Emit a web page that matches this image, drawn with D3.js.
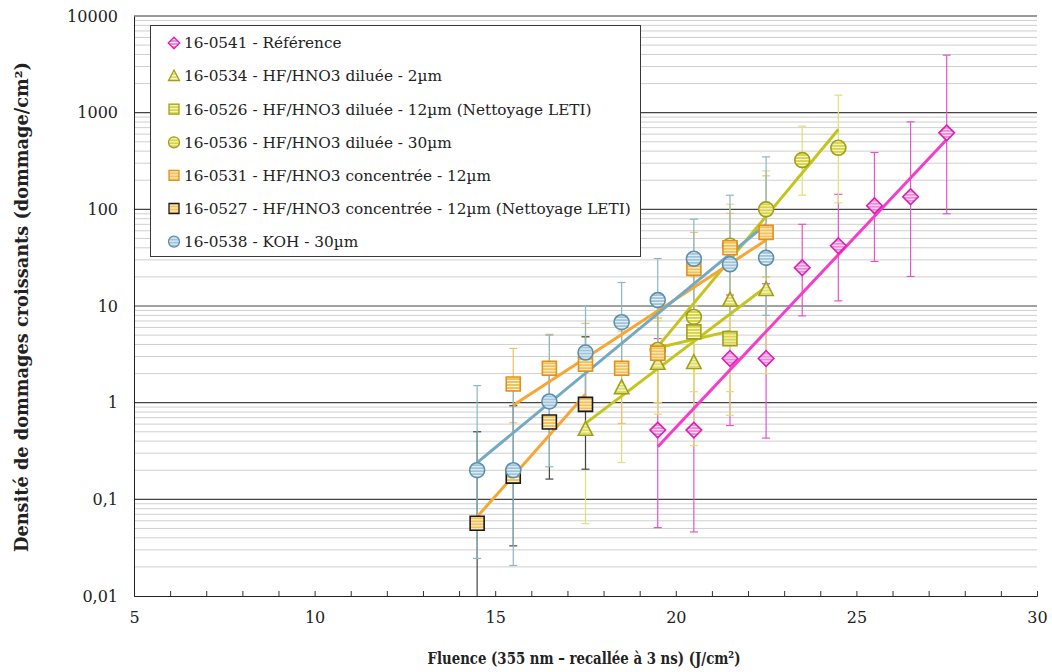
<!DOCTYPE html>
<html><head><meta charset="utf-8">
<script src="https://cdn.jsdelivr.net/npm/d3@7"></script>
<style>body{margin:0;background:#fff}svg{display:block}</style>
</head><body><svg id="c" width="1052" height="672"></svg>
<script>
// ---------- DATA ----------
const xTicks = [5, 10, 15, 20, 25, 30];
const yTicks = [0.01, 0.1, 1, 10, 100, 1000, 10000];

const legendLabels = [
  "16-0541 - Référence",
  "16-0534 - HF/HNO3 diluée - 2µm",
  "16-0526 - HF/HNO3 diluée - 12µm (Nettoyage LETI)",
  "16-0536 - HF/HNO3 diluée - 30µm",
  "16-0531 - HF/HNO3 concentrée - 12µm",
  "16-0527 - HF/HNO3 concentrée - 12µm (Nettoyage LETI)",
  "16-0538 - KOH - 30µm"
];

// 16-0541 Référence
const refX  = [19.5, 20.5, 21.5, 22.5, 23.5, 24.5, 25.5, 26.5, 27.5];
const refY  = [0.52, 0.52, 2.86, 2.86, 24.9, 42, 109, 135, 618];
const refLo = [0.051, 0.046, 0.58, 0.43, 7.9, 11.3, 28.9, 20.2, 90];
const refHi = [4.6, 5.5, 13, 17, 70, 143, 387, 803, 3935];
const refFitX = [19.5, 27.5], refFitY = [0.35, 528];

// 16-0534 diluée 2µm
const d2X  = [17.5, 18.5, 19.5, 20.5, 21.5, 22.5];
const d2Y  = [0.53, 1.43, 2.55, 2.6, 11.5, 14.8];
const d2Lo = [0.056, 0.24, 0.76, 0.36, 1.3, 2.0];
const d2Hi = [4.8, 6.6, 7.0, 10, 40, 60];
const d2FitX = [17.5, 22.5], d2FitY = [0.61, 15.8];

// 16-0526 diluée 12µm (LETI)
const d12X  = [19.5, 20.5, 21.5];
const d12Y  = [3.3, 5.4, 4.6];
const d12Lo = [1.0, 1.3, 0.74];
const d12Hi = [7.5, 20, 30];
const d12FitX = [19.5, 21.5], d12FitY = [3.7, 5.5];

// 16-0536 diluée 30µm
const d30X  = [19.5, 20.5, 21.5, 22.5, 23.5, 24.5];
const d30Y  = [3.5, 7.7, 42, 100, 323, 433];
const d30Lo = [1.0, 2.0, 12, 20, 140, 117];
const d30Hi = [9, 30, 113, 250, 725, 1517];
const d30FitX = [19.5, 24.5], d30FitY = [3.8, 670];

// 16-0531 concentrée 12µm
const c12X  = [15.5, 16.5, 17.5, 18.5, 19.5, 20.5, 21.5, 22.5];
const c12Y  = [1.56, 2.27, 2.5, 2.27, 3.24, 24.5, 40, 57.7];
const c12Lo = [0.62, 1.0, 1.0, 0.61, 1.0, 8, 12, 20];
const c12Hi = [3.64, 5.1, 6.6, 5.5, 7.5, 57.7, 91, 222];
const c12FitX = [15.5, 22.5], c12FitY = [0.94, 48];

// 16-0527 concentrée 12µm (LETI)
const cLX  = [14.5, 15.5, 16.5, 17.5];
const cLY  = [0.0565, 0.174, 0.63, 0.96];
const cLLo = [0.005, 0.033, 0.162, 0.205];
const cLHi = [0.5, 0.93, 2.0, 4.8];
const cLFitX = [14.5, 17.5], cLFitY = [0.066, 1.22];

// 16-0538 KOH 30µm
const kX  = [14.5, 15.5, 16.5, 17.5, 18.5, 19.5, 20.5, 21.5, 22.5];
const kY  = [0.20, 0.20, 1.03, 3.3, 6.8, 11.5, 30.8, 27, 31.5];
const kLo = [0.0245, 0.0207, 0.217, 1.0, 2.0, 3.0, 8, 8, 8];
const kHi = [1.5, 1.8, 5.0, 10, 17.5, 31, 79, 140, 349];
const kFitX = [14.5, 22.5], kFitY = [0.24, 70];

// ---------- STYLE ----------
const series = [
  {x:refX,y:refY,lo:refLo,hi:refHi,fx:refFitX,fy:refFitY,shape:"diamond",stroke:"#d820b4",fill:"#f08ad8",line:"#f23fc9",err:"#e255cc"},
  {x:d2X,y:d2Y,lo:d2Lo,hi:d2Hi,fx:d2FitX,fy:d2FitY,shape:"triangle",stroke:"#a0a018",fill:"#dede66",line:"#c4c41c",err:"#e0e074"},
  {x:d12X,y:d12Y,lo:d12Lo,hi:d12Hi,fx:d12FitX,fy:d12FitY,shape:"square",stroke:"#a0a018",fill:"#d8d444",line:"#c4c41c",err:"#e0e074"},
  {x:d30X,y:d30Y,lo:d30Lo,hi:d30Hi,fx:d30FitX,fy:d30FitY,shape:"circle",stroke:"#a0a018",fill:"#d8d444",line:"#c4c41c",err:"#e0e074"},
  {x:c12X,y:c12Y,lo:c12Lo,hi:c12Hi,fx:c12FitX,fy:c12FitY,shape:"square",stroke:"#e0901c",fill:"#f5c155",line:"#f7a634",err:"#f2c062"},
  {x:cLX,y:cLY,lo:cLLo,hi:cLHi,fx:cLFitX,fy:cLFitY,shape:"square",stroke:"#1a1a1a",fill:"#f5c155",line:"#f7a634",err:"#444444"},
  {x:kX,y:kY,lo:kLo,hi:kHi,fx:kFitX,fy:kFitY,shape:"circle",stroke:"#5a90ae",fill:"#9fc4da",line:"#73a9c2",err:"#8cb6ca"}
];

const svg = d3.select("#c");
const L = 134, R = 1037, T = 16, B = 596;
const x = d3.scaleLinear().domain([5, 30]).range([L, R]);
const y = d3.scaleLog().domain([0.01, 10000]).range([B, T]);
const loc = d3.formatLocale({decimal: ",", thousands: "", grouping: [3], currency: ["", ""]});
const fmt = d => d >= 1 ? String(d) : loc.format(",")(d);

// patterns
const defs = svg.append("defs");
series.forEach((s, i) => {
  const p = defs.append("pattern").attr("id", "pat" + i).attr("patternUnits", "userSpaceOnUse")
    .attr("width", 6).attr("height", 3);
  p.append("rect").attr("width", 6).attr("height", 3).attr("fill", s.fill);
  p.append("rect").attr("y", 2).attr("width", 6).attr("height", 1).attr("fill", "#fff").attr("opacity", 0.85);
});
defs.append("clipPath").attr("id", "clip").append("rect")
  .attr("x", L).attr("y", T - 2).attr("width", R - L).attr("height", B - T + 2);

// gridlines
const grid = svg.append("g");
const gv = [];
for (let e = -2; e < 4; e++) for (let k = 1; k <= 9; k++) gv.push({v: k * Math.pow(10, e), major: k === 1});
grid.selectAll("line.min").data(gv.filter(d => !d.major)).join("line")
  .attr("x1", L).attr("x2", R).attr("y1", d => y(d.v)).attr("y2", d => y(d.v))
  .attr("stroke", "#cfcfcf").attr("stroke-width", 1);
grid.selectAll("line.maj").data(gv.filter(d => d.major && d.v > 0.01)).join("line")
  .attr("x1", L).attr("x2", R).attr("y1", d => y(d.v)).attr("y2", d => y(d.v))
  .attr("stroke", "#444").attr("stroke-width", 1.2);
grid.append("line").attr("x1", L).attr("x2", R).attr("y1", y(10000)).attr("y2", y(10000))
  .attr("stroke", "#9a9a9a").attr("stroke-width", 2);

// axes
const xa = svg.append("g").attr("transform", `translate(0,${B})`)
  .call(d3.axisBottom(x).tickValues(d3.range(5, 31, 1)).tickSize(-5).tickFormat(""));
xa.select(".domain").attr("stroke", "#222");
xa.selectAll(".tick line").attr("stroke", "#333");
const xl = svg.append("g").attr("transform", `translate(0,${B})`)
  .call(d3.axisBottom(x).tickValues(xTicks).tickSize(0).tickPadding(16).tickFormat(d => d));
xl.select(".domain").remove();
xl.selectAll("text").attr("font-family", "DejaVu Serif").attr("font-size", 16).attr("fill", "#222");

const ya = svg.append("g").attr("transform", `translate(${L},0)`)
  .call(d3.axisLeft(y).tickValues(yTicks).tickSize(0).tickPadding(16).tickFormat(fmt));
ya.select(".domain").attr("stroke", "#222");
ya.selectAll("text").attr("font-family", "DejaVu Serif").attr("font-size", 16).attr("fill", "#222");

// plot layers
const plot = svg.append("g").attr("clip-path", "url(#clip)");
const capW = 4;
series.forEach(s => {
  const g = plot.append("g");
  const pts = s.x.map((v, i) => ({x: v, lo: s.lo[i], hi: s.hi[i]}));
  g.selectAll("line.v").data(pts).join("line")
    .attr("x1", d => x(d.x)).attr("x2", d => x(d.x))
    .attr("y1", d => y(Math.max(d.lo, 0.001))).attr("y2", d => y(d.hi))
    .attr("stroke", s.err).attr("stroke-width", 1.2);
  ["lo", "hi"].forEach(k => {
    g.selectAll("line." + k).data(pts.filter(d => d[k] >= 0.01)).join("line")
      .attr("x1", d => x(d.x) - capW).attr("x2", d => x(d.x) + capW)
      .attr("y1", d => y(d[k])).attr("y2", d => y(d[k]))
      .attr("stroke", s.err).attr("stroke-width", 1.2);
  });
});
const lineGen = d3.line().x(d => x(d[0])).y(d => y(d[1]));
series.forEach(s => {
  plot.append("path").datum(s.fx.map((v, i) => [v, s.fy[i]]))
    .attr("d", lineGen).attr("fill", "none").attr("stroke", s.line).attr("stroke-width", 3);
});

function shapePath(shape, r) {
  if (shape === "circle") return d3.symbol(d3.symbolCircle, Math.PI * r * r)();
  if (shape === "square") return `M${-r},${-r}H${r}V${r}H${-r}Z`;
  if (shape === "diamond") return `M0,${-r}L${r},0L0,${r}L${-r},0Z`;
  if (shape === "triangle") { const h = r * 1.1; return `M0,${-h}L${r},${h * 0.75}L${-r},${h * 0.75}Z`; }
}
const msize = {circle: 7.5, square: 7, diamond: 7.8, triangle: 7.2};
series.forEach((s, i) => {
  plot.append("g").selectAll("path").data(s.x.map((v, j) => [v, s.y[j]])).join("path")
    .attr("transform", d => `translate(${x(d[0])},${y(d[1])})`)
    .attr("d", shapePath(s.shape, msize[s.shape]))
    .attr("fill", `url(#pat${i})`).attr("stroke", s.stroke).attr("stroke-width", 1.6);
});

// legend
const lg = svg.append("g");
lg.append("rect").attr("x", 150.5).attr("y", 25.5).attr("width", 490).attr("height", 231)
  .attr("fill", "#fff").attr("stroke", "#3a3a3a").attr("stroke-width", 1);
const lsize = {circle: 5.5, square: 5, diamond: 5.8, triangle: 5.5};
legendLabels.forEach((t, i) => {
  const cy = 43 + i * 33.1;
  lg.append("path").attr("transform", `translate(174,${cy})`)
    .attr("d", shapePath(series[i].shape, lsize[series[i].shape]))
    .attr("fill", `url(#pat${i})`).attr("stroke", series[i].stroke).attr("stroke-width", 1.3);
  lg.append("text").attr("x", 184).attr("y", cy).attr("dy", "0.35em")
    .attr("font-family", "DejaVu Serif").attr("font-size", 15.3).attr("fill", "#222").text(t);
});

// titles
svg.append("text").attr("x", 584).attr("y", 664).attr("text-anchor", "middle")
  .attr("font-family", "DejaVu Serif").attr("font-weight", "bold").attr("font-size", 17)
  .attr("textLength", 313).attr("lengthAdjust", "spacingAndGlyphs").attr("fill", "#222")
  .text("Fluence (355 nm – recallée à 3 ns) (J/cm²)");
svg.append("text").attr("transform", "translate(28,307) rotate(-90)").attr("text-anchor", "middle")
  .attr("font-family", "DejaVu Serif").attr("font-weight", "bold").attr("font-size", 18)
  .attr("textLength", 490).attr("lengthAdjust", "spacingAndGlyphs").attr("fill", "#222")
  .text("Densité de dommages croissants (dommage/cm²)");
</script></body></html>
